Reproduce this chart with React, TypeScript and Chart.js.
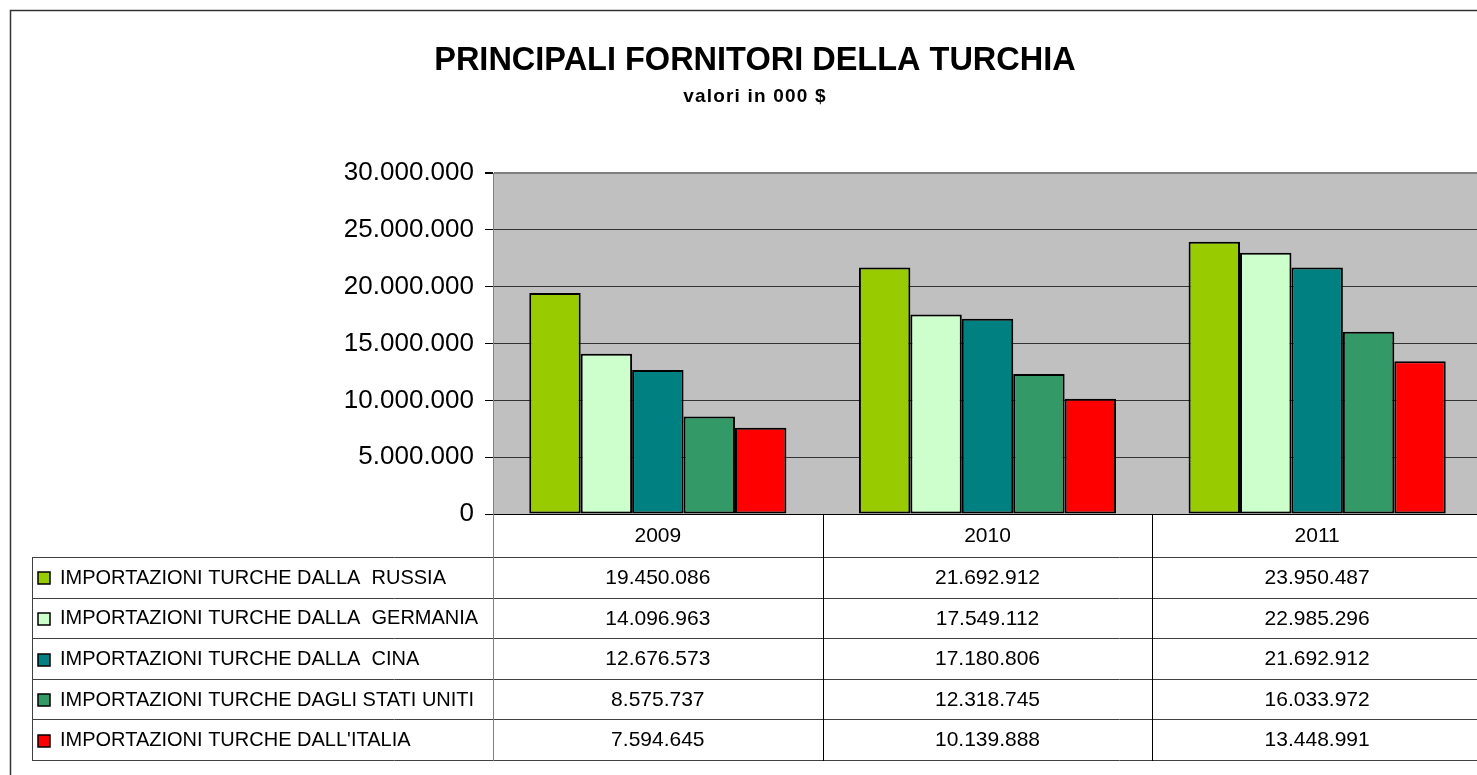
import React, { useEffect, useRef } from 'react';
import { Chart, registerables } from 'chart.js';

Chart.register(...registerables);

const years = ['2009', '2010', '2011'];
const seriesNames = [
  'IMPORTAZIONI TURCHE DALLA  RUSSIA',
  'IMPORTAZIONI TURCHE DALLA  GERMANIA',
  'IMPORTAZIONI TURCHE DALLA  CINA',
  'IMPORTAZIONI TURCHE DAGLI STATI UNITI',
  "IMPORTAZIONI TURCHE DALL'ITALIA",
];
const russia = [19450086, 21692912, 23950487];
const germania = [14096963, 17549112, 22985296];
const cina = [12676573, 17180806, 21692912];
const statiUniti = [8575737, 12318745, 16033972];
const italia = [7594645, 10139888, 13448991];
const seriesValues = [russia, germania, cina, statiUniti, italia];
const seriesColors = ['#99CC00', '#CCFFCC', '#008080', '#339966', '#FF0000'];
const yMin = 0;
const yMax = 30000000;
const yStep = 5000000;
const titleText = 'PRINCIPALI FORNITORI DELLA TURCHIA';
const subtitleText = 'valori in 000 $';

const FONT = '"Liberation Sans", Arial, sans-serif';
const fmt = (n: number) => String(Math.round(n)).replace(/\B(?=(\d{3})+(?!\d))/g, '.');

const CW = 1500;
const CH = 790;

export default function App() {
  const ref = useRef<HTMLCanvasElement | null>(null);

  useEffect(() => {
    const canvas = ref.current;
    if (!canvas) return;

    const decor = {
      id: 'decor',
      beforeDraw(chart: any) {
        const { ctx, chartArea } = chart;
        ctx.save();
        ctx.fillStyle = '#ffffff';
        ctx.fillRect(0, 0, CW, CH);
        // outer frame
        ctx.strokeStyle = '#333333';
        ctx.lineWidth = 1.5;
        ctx.strokeRect(10.5, 10.5, 1489, 780);
        // plot background
        ctx.fillStyle = '#C0C0C0';
        ctx.fillRect(chartArea.left, chartArea.top, chartArea.right - chartArea.left, chartArea.bottom - chartArea.top);
        // titles
        const cx = (10 + 1500) / 2;
        ctx.fillStyle = '#000';
        ctx.textAlign = 'center';
        ctx.textBaseline = 'alphabetic';
        ctx.font = `bold 32.5px ${FONT}`;
        ctx.fillText(titleText, cx, 70);
        ctx.font = `bold 19px ${FONT}`;
        (ctx as any).letterSpacing = '1.2px';
        ctx.fillText(subtitleText, cx, 102);
        (ctx as any).letterSpacing = '0px';
        ctx.restore();
      },
      afterDraw(chart: any) {
        const { ctx, chartArea } = chart;
        const xs = chart.scales.x;
        const catW = (chartArea.right - chartArea.left) / years.length;
        const top = chartArea.bottom;
        const headerBottom = top + 43;
        const rowH = 40.6;
        const tableBottom = headerBottom + rowH * seriesNames.length;
        const tableLeft = 32;
        ctx.save();
        // horizontal lines
        ctx.lineWidth = 1;
        ctx.strokeStyle = '#404040';
        for (let r = 0; r <= seriesNames.length; r++) {
          const y = Math.round(headerBottom + r * rowH) + 0.5;
          ctx.beginPath();
          ctx.moveTo(tableLeft, y);
          ctx.lineTo(chartArea.right, y);
          ctx.stroke();
        }
        // left border
        ctx.beginPath();
        ctx.moveTo(tableLeft + 0.5, Math.round(headerBottom));
        ctx.lineTo(tableLeft + 0.5, Math.round(tableBottom) + 1);
        ctx.stroke();
        // axis line continuing down
        ctx.strokeStyle = '#808080';
        ctx.beginPath();
        ctx.moveTo(chartArea.left + 0.5, top);
        ctx.lineTo(chartArea.left + 0.5, Math.round(tableBottom) + 1);
        ctx.stroke();
        // column separators
        ctx.strokeStyle = '#000';
        for (let i = 1; i <= years.length; i++) {
          const x = Math.round(chartArea.left + i * catW) + 0.5;
          ctx.beginPath();
          ctx.moveTo(x, top);
          ctx.lineTo(x, Math.round(tableBottom) + 1);
          ctx.stroke();
        }
        // header years
        ctx.fillStyle = '#000';
        ctx.textAlign = 'center';
        ctx.textBaseline = 'middle';
        ctx.font = `21px ${FONT}`;
        years.forEach((yr, i) => {
          ctx.fillText(yr, xs.getPixelForValue(i), (top + headerBottom) / 2 + 1);
        });
        // rows
        seriesNames.forEach((name, r) => {
          const cy = headerBottom + r * rowH + rowH / 2 + 1;
          // marker
          ctx.fillStyle = seriesColors[r];
          ctx.fillRect(38, Math.round(cy - 6), 12, 12);
          ctx.strokeStyle = '#000';
          ctx.lineWidth = 1.5;
          ctx.strokeRect(38, Math.round(cy - 6), 12, 12);
          ctx.fillStyle = '#000';
          ctx.textAlign = 'left';
          ctx.font = `20px ${FONT}`;
          ctx.fillText(name, 60, cy);
          ctx.textAlign = 'center';
          ctx.font = `21px ${FONT}`;
          seriesValues[r].forEach((v, i) => {
            ctx.fillText(fmt(v), xs.getPixelForValue(i), cy);
          });
        });
        ctx.restore();
      },
    };

    const chart = new Chart(canvas, {
      type: 'bar',
      data: {
        labels: years,
        datasets: seriesNames.map((name, i) => ({
          label: name,
          data: seriesValues[i],
          backgroundColor: seriesColors[i],
          borderColor: '#000000',
          borderWidth: 2,
          borderSkipped: false,
          barPercentage: 1,
          categoryPercentage: 0.78,
        })),
      },
      options: {
        responsive: false,
        animation: false,
        layout: { padding: { left: 0, top: 173, right: CW - 1482, bottom: CH - 514 } },
        plugins: {
          legend: { display: false },
          title: { display: false },
          tooltip: { enabled: false },
        },
        scales: {
          x: { display: false },
          y: {
            min: yMin,
            max: yMax,
            afterFit(scale: any) {
              scale.width = 493;
            },
            ticks: {
              stepSize: yStep,
              padding: 11,
              color: '#000',
              font: { size: 26, family: FONT },
              callback: (v: any) => fmt(Number(v)),
            },
            grid: {
              color: (c: any) => (c.tick && c.tick.value === yMax ? '#808080' : c.tick && c.tick.value === 0 ? '#000' : '#333333'),
              tickColor: '#000',
              tickLength: 8,
              lineWidth: (c: any) => (c.tick && c.tick.value === yMax ? 2 : 1),
            },
            border: { display: true, color: '#808080', width: 1 },
          },
        },
      },
      plugins: [decor],
    });

    return () => chart.destroy();
  }, []);

  return (
    <div style={{ position: 'fixed', left: 0, top: 0, width: 1477, height: 775, overflow: 'hidden', background: '#fff' }}>
      <canvas ref={ref} width={CW} height={CH} style={{ display: 'block', width: CW, height: CH }} />
    </div>
  );
}
